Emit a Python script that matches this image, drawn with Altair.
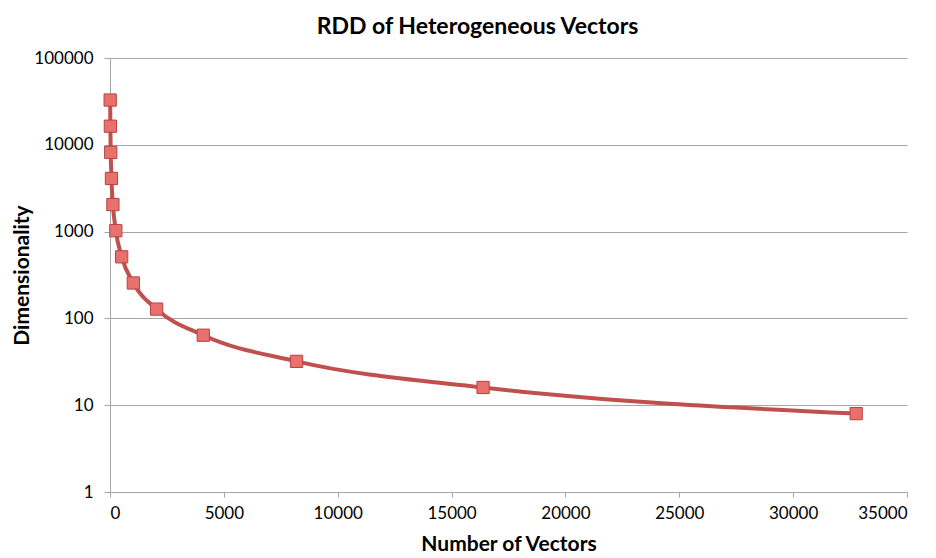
import altair as alt
import pandas as pd

# Number of vectors vs. resulting dimensionality
num_vectors = [8, 16, 32, 64, 128, 256, 512, 1024, 2048, 4096, 8192, 16384, 32768]
dimensionality = [32768, 16384, 8192, 4096, 2048, 1024, 512, 256, 128, 64, 32, 16, 8]

x_ticks = [0, 5000, 10000, 15000, 20000, 25000, 30000, 35000]
y_ticks = [1, 10, 100, 1000, 10000, 100000]

df = pd.DataFrame({"vectors": num_vectors, "dim": dimensionality})

FONT = "Lato"
GRID = "#a6a6a6"

common_axis = dict(
    labelFont=FONT, labelFontSize=17, labelColor="#000000",
    titleFont=FONT, titleFontSize=21, titleFontWeight="bold", titleColor="#000000",
    domainColor=GRID, tickColor=GRID, domainWidth=1, tickWidth=1,
)

x_enc = alt.X(
    "vectors:Q",
    scale=alt.Scale(domain=[0, 35000], nice=False, zero=True),
    axis=alt.Axis(
        title="Number of Vectors",
        values=x_ticks,
        format="d",
        grid=False,
        tickSize=5,
        labelPadding=8,
        titlePadding=12,
        **common_axis,
    ),
)
y_enc = alt.Y(
    "dim:Q",
    scale=alt.Scale(type="log", domain=[1, 100000], nice=False),
    axis=alt.Axis(
        title="Dimensionality",
        values=y_ticks,
        format="d",
        grid=True,
        gridColor=GRID,
        gridWidth=1,
        tickSize=6,
        labelPadding=11,
        titlePadding=1,
        **common_axis,
    ),
)

line = alt.Chart(df).mark_line(
    color="#c0504d", strokeWidth=4, interpolate="monotone"
).encode(x=x_enc, y=y_enc)

points = alt.Chart(df).mark_point(
    shape="square", size=150, filled=True, fill="#e8716e",
    stroke="#b9423f", strokeWidth=1, opacity=1
).encode(x="vectors:Q", y="dim:Q")

chart = (
    alt.layer(line, points)
    .properties(
        width=797,
        height=434,
        background="white",
        title=alt.TitleParams(
            "RDD of Heterogeneous Vectors",
            font=FONT, fontSize=23, fontWeight="bold", color="#000000",
            anchor="middle", offset=10, dx=-31,
        ),
        autosize=alt.AutoSizeParams(type="none"),
        padding={"left": 110, "top": 58, "right": 29, "bottom": 66},
    )
    .configure_view(stroke=None)
)

chart.save("out.html", embed_options={"renderer": "svg", "actions": False})
